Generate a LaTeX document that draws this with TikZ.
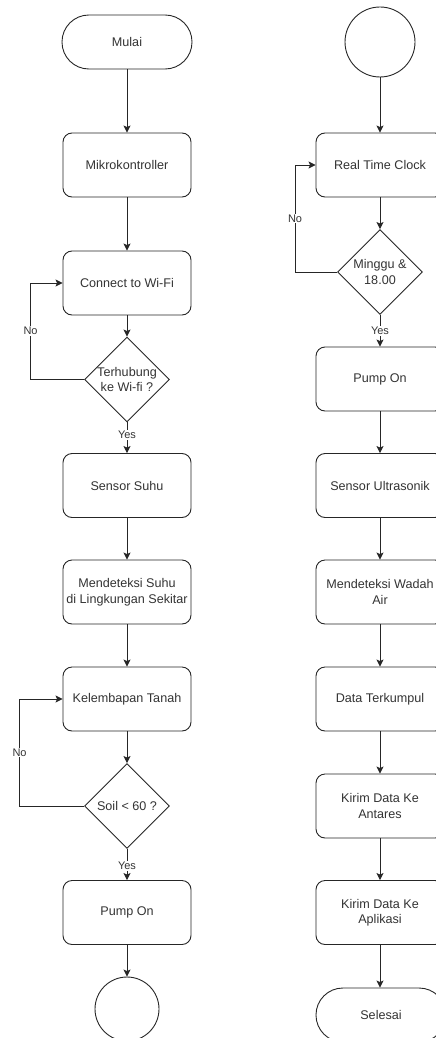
\documentclass[tikz,border=0pt]{standalone}
\usepackage{fontspec}
\setmainfont{Liberation Sans}
\usetikzlibrary{shapes.geometric,arrows.meta}
\definecolor{txt}{HTML}{333333}
\definecolor{ln}{HTML}{262626}
\begin{document}
\begin{tikzpicture}[x=1pt,y=-1pt,
  every node/.style={font=\fontsize{12.6}{15.5}\selectfont, text=txt},
  proc/.style={draw=ln, line width=0.9pt, rounded corners=9pt,
    minimum width=128pt, minimum height=64pt, align=center, inner sep=2pt},
  term/.style={draw=ln, line width=0.9pt, rounded corners=26.9pt,
    minimum width=130pt, minimum height=54pt, inner sep=2pt},
  conn/.style={draw=ln, line width=0.9pt, circle, inner sep=0pt},
  decision/.style={draw=ln, line width=0.9pt, diamond, shape aspect=1,
    minimum width=85pt, minimum height=85pt, inner sep=0pt},
  arr/.style={draw=ln, line width=0.9pt, -{Stealth[length=7pt,width=7pt,inset=1.5pt]}},
  lbl/.style={fill=white, inner sep=1pt, font=\fontsize{11}{13}\selectfont}
]
\useasboundingbox (0,0) rectangle (436,1038);
\clip (0,0) rectangle (436,1038);

% left column
\node[term] (mulai) at (127,42) {Mulai};
\node[proc] (mikro) at (127,165) {Mikrokontroller};
\node[proc] (wifi) at (127,283) {Connect to Wi-Fi};
\node[decision, label={[align=center]center:{Terhubung\\ke Wi-fi ?}}] (cekwifi) at (127,379.5) {};
\node[proc] (suhu) at (127,485.5) {Sensor Suhu};
\node[proc] (deteksi) at (127,592) {Mendeteksi Suhu\\di Lingkungan Sekitar};
\node[proc] (tanah) at (127,699) {Kelembapan Tanah};
\node[decision, label={center:{Soil < 60 ?}}] (soil) at (127,806) {};
\node[proc] (pompa1) at (127,912.5) {Pump On};
\node[conn, minimum size=64pt] (lanjut1) at (127,1009) {};

% right column
\node[conn, minimum size=70pt] (lanjut2) at (380,42) {};
\node[proc] (rtc) at (380,165) {Real Time Clock};
\node[decision, label={[align=center]center:{Minggu \&\\18.00}}] (jadwal) at (380,272) {};
\node[proc] (pompa2) at (380,379) {Pump On};
\node[proc] (ultra) at (380,485.5) {Sensor Ultrasonik};
\node[proc] (wadah) at (380,592) {Mendeteksi Wadah\\Air};
\node[proc] (kumpul) at (380,699) {Data Terkumpul};
\node[proc] (antares) at (380,806) {Kirim Data Ke\\Antares};
\node[proc] (aplikasi) at (380,912.5) {Kirim Data Ke\\Aplikasi};
\node[term] (selesai) at (381,1015) {Selesai};

% left flow
\draw[arr] (mulai) -- (mikro);
\draw[arr] (mikro) -- (wifi);
\draw[arr] (wifi) -- (cekwifi);
\draw[arr] (cekwifi) -- node[lbl, pos=0.4] {Yes} (suhu);
\draw[arr] (cekwifi.west) -- ++(-53.5,0) |- node[lbl, pos=0.25] {No} (wifi.west);
\draw[arr] (suhu) -- (deteksi);
\draw[arr] (deteksi) -- (tanah);
\draw[arr] (tanah) -- (soil);
\draw[arr] (soil) -- node[lbl, pos=0.55] {Yes} (pompa1);
\draw[arr] (soil.west) -- ++(-64.5,0) |- node[lbl, pos=0.25] {No} (tanah.west);
\draw[arr] (pompa1) -- (lanjut1);

% right flow
\draw[arr] (lanjut2) -- (rtc);
\draw[arr] (rtc) -- (jadwal);
\draw[arr] (jadwal) -- node[lbl, pos=0.5] {Yes} (pompa2);
\draw[arr] (jadwal.west) -- ++(-42,0) |- node[lbl, pos=0.25] {No} (rtc.west);
\draw[arr] (pompa2) -- (ultra);
\draw[arr] (ultra) -- (wadah);
\draw[arr] (wadah) -- (kumpul);
\draw[arr] (kumpul) -- (antares);
\draw[arr] (antares) -- (aplikasi);
\draw[arr] (aplikasi) -- (aplikasi |- selesai.north);
\end{tikzpicture}
\end{document}
